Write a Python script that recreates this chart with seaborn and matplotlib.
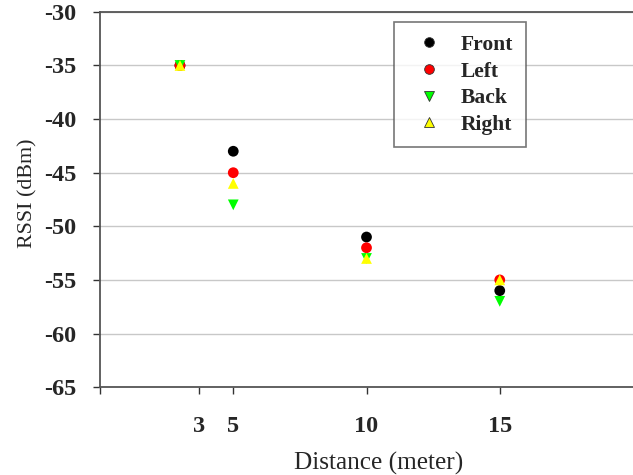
import matplotlib
matplotlib.use("Agg")
import matplotlib.pyplot as plt
import seaborn as sns
import pandas as pd

distances = [3, 5, 10, 15]
front = [-35, -43, -51, -56]
left = [-35, -45, -52, -55]
back = [-35, -48, -53, -57]
right = [-35, -46, -53, -55]
series_names = ["Front", "Left", "Back", "Right"]
xtick_pos = [0, 3.7, 5, 10, 15]
xtick_labels = ["", "3", "5", "10", "15"]
yticks = [-30, -35, -40, -45, -50, -55, -60, -65]

rows = []
for name, vals in zip(series_names, [front, left, back, right]):
    for d, v in zip(distances, vals):
        rows.append({"Distance": d, "RSSI": v, "Side": name})
df = pd.DataFrame(rows)

sns.set_style("white")
plt.rcParams["font.family"] = ["Liberation Serif", "DejaVu Serif"]

fig = plt.figure(figsize=(6.33, 4.75), dpi=100)
ax = fig.add_axes([0.158, 0.185, 0.842, 0.79])

palette = {"Front": "#000000", "Left": "#ff0000", "Back": "#00ff00", "Right": "#ffff00"}
markers = {"Front": "o", "Left": "o", "Back": "v", "Right": "^"}
sns.scatterplot(data=df, x="Distance", y="RSSI", hue="Side", style="Side",
                hue_order=series_names, style_order=series_names,
                palette=palette, markers=markers, s=60, edgecolor="none",
                linewidth=0, ax=ax, zorder=3)

ax.set_xlim(0, 20)
ax.set_ylim(-65, -30)
ax.set_yticks(yticks)
ax.set_yticklabels([str(v) for v in yticks], fontweight="bold", fontsize=17.5)
ax.set_xticks(xtick_pos)
ax.set_xticklabels(xtick_labels, fontweight="bold", fontsize=17.5)
ax.tick_params(axis="both", direction="out", length=5, width=1, color="#333333",
               bottom=True, left=True)
ax.tick_params(axis="x", pad=16)
ax.tick_params(axis="y", pad=12)
ax.yaxis.grid(True, color="#c8c8c8", linewidth=1)
ax.xaxis.grid(False)
ax.set_axisbelow(True)
for side in ["left", "bottom", "top"]:
    ax.spines[side].set_color("#555555")
    ax.spines[side].set_linewidth(1.3)
ax.spines["right"].set_visible(False)

ax.set_xlabel("Distance (meter)", fontsize=18.2)
ax.set_ylabel("RSSI (dBm)", fontsize=15.8)
ax.xaxis.set_label_coords(0.523, -0.172)
ax.yaxis.set_label_coords(-0.118, 0.517)

handles, labels = ax.get_legend_handles_labels()
for h in handles:
    if hasattr(h, "set_markeredgecolor"):
        h.set_markeredgecolor("#333333")
        h.set_markeredgewidth(0.6)
leg = ax.legend(handles, labels, loc="upper left", bbox_to_anchor=(0.552, 0.973),
                frameon=True, fancybox=False, prop={"weight": "bold", "size": 15.5},
                borderpad=0.6, labelspacing=0.3, handletextpad=0.5, borderaxespad=0,
                handlelength=2.0, markerscale=0.9)
leg.get_frame().set_edgecolor("#555555")
leg.get_frame().set_linewidth(1.2)

fig.savefig("out.png", dpi=100)
